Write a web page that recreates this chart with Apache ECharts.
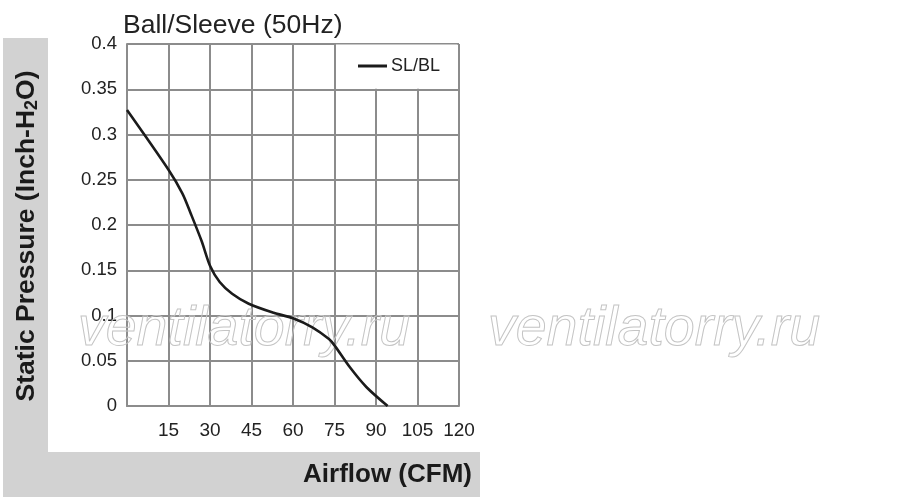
<!DOCTYPE html>
<html lang="en">
<head>
    <meta charset="UTF-8">
    <title>Ball/Sleeve (50Hz)</title>
    <style>
        html, body { margin: 0; padding: 0; background: #fff; }
        #chart { width: 900px; height: 502px; }
    </style>
    <script src="https://cdn.jsdelivr.net/npm/echarts@6/dist/echarts.min.js"></script>
</head>
<body>
    <div id="chart"></div>
    <script>
        // curve
        var airflow = [0, 15, 20, 23, 27, 30, 33.5, 38, 44, 53, 60, 67, 73, 75, 80.5, 86.5, 94.2];
        var pressure = [0.327, 0.261, 0.235, 0.213, 0.182, 0.155, 0.137, 0.124, 0.113, 0.103, 0.097, 0.087, 0.074, 0.067, 0.043, 0.021, 0];
        var seriesName = 'SL/BL';
        var watermark = 'ventilatorry.ru';

        var font = '"Liberation Sans", Arial, sans-serif';
        var gridColor = '#8c8c8c';
        var bandColor = '#d2d2d2';

        var points = [];
        for (var i = 0; i < airflow.length; i++) {
            points.push([airflow[i], pressure[i]]);
        }

        var chart = echarts.init(document.getElementById('chart'));

        var option = {
            animation: false,
            textStyle: { fontFamily: font },
            title: {
                text: 'Ball/Sleeve (50Hz)',
                left: 123,
                top: 12,
                padding: 0,
                textStyle: { fontFamily: font, fontSize: 26.5, fontWeight: 'normal', color: '#222' }
            },
            legend: {
                data: [seriesName],
                left: 358,
                top: 57,
                padding: 0,
                icon: 'rect',
                itemWidth: 29,
                itemHeight: 3,
                itemGap: 4,
                textStyle: { fontFamily: font, fontSize: 18, color: '#222', padding: [0, 0, 0, -1] }
            },
            grid: { left: 127, right: 441, top: 44, bottom: 96 },
            xAxis: {
                type: 'value',
                min: 0,
                max: 120,
                interval: 15,
                axisLine: { lineStyle: { color: gridColor, width: 2 } },
                axisTick: { show: false },
                splitLine: { lineStyle: { color: gridColor, width: 2 } },
                axisLabel: {
                    fontSize: 19,
                    color: '#222',
                    margin: 15,
                    formatter: function (v) { return v === 0 ? '' : v; }
                }
            },
            yAxis: {
                type: 'value',
                min: 0,
                max: 0.4,
                interval: 0.05,
                axisLine: { show: true, lineStyle: { color: gridColor, width: 2 } },
                axisTick: { show: false },
                splitLine: { lineStyle: { color: gridColor, width: 2 } },
                axisLabel: { fontSize: 18.5, color: '#222', margin: 10, padding: [7, 0, 0, 0] }
            },
            series: [
                {
                    name: seriesName,
                    type: 'line',
                    data: points,
                    smooth: 0.3,
                    showSymbol: false,
                    color: '#1b1b1b',
                    lineStyle: { color: '#1b1b1b', width: 2.6 }
                }
            ],
            graphic: [
                // grey L-shaped band behind the axis titles
                { type: 'rect', z: -10, shape: { x: 3, y: 38, width: 45, height: 459 }, style: { fill: bandColor } },
                { type: 'rect', z: -10, shape: { x: 3, y: 452, width: 477, height: 45 }, style: { fill: bandColor } },
                {
                    type: 'text', z: 5, x: 27, y: 236, rotation: Math.PI / 2,
                    style: {
                        text: 'Static Pressure (Inch-H{sub|2}O)',
                        fontFamily: font, fontSize: 26.5, fontWeight: 'bold', fill: '#1a1a1a',
                        align: 'center', verticalAlign: 'middle',
                        rich: { sub: { fontFamily: font, fontSize: 18, fontWeight: 'bold', fill: '#1a1a1a', padding: [10, 0, 0, 0] } }
                    }
                },
                {
                    type: 'text', z: 5, x: 472, y: 475,
                    style: {
                        text: 'Airflow (CFM)',
                        fontFamily: font, fontSize: 26, fontWeight: 'bold', fill: '#1a1a1a',
                        align: 'right', verticalAlign: 'middle'
                    }
                },
                // outlined watermark text
                {
                    type: 'text', z: 1, x: 78, y: 330,
                    style: {
                        text: watermark, fontFamily: font, fontSize: 55.5, fontStyle: 'italic',
                        fill: 'none', stroke: '#c4c4c4', lineWidth: 1, verticalAlign: 'middle'
                    }
                },
                {
                    type: 'text', z: 1, x: 488, y: 330,
                    style: {
                        text: watermark, fontFamily: font, fontSize: 55.5, fontStyle: 'italic',
                        fill: 'none', stroke: '#c4c4c4', lineWidth: 1, verticalAlign: 'middle'
                    }
                }
            ]
        };

        chart.setOption(option);

        // blank the top-right cells behind the legend (no 90/105 grid lines there)
        var p1 = chart.convertToPixel({ gridIndex: 0 }, [75, 0.4]);
        var p2 = chart.convertToPixel({ gridIndex: 0 }, [120, 0.35]);
        option.graphic.push({
            type: 'rect', z: 1,
            shape: { x: p1[0] + 1.5, y: p1[1] + 0.5, width: p2[0] - p1[0] - 3, height: p2[1] - p1[1] - 1 },
            style: { fill: '#fff' }
        });
        chart.setOption({ graphic: option.graphic });
    </script>
</body>
</html>
